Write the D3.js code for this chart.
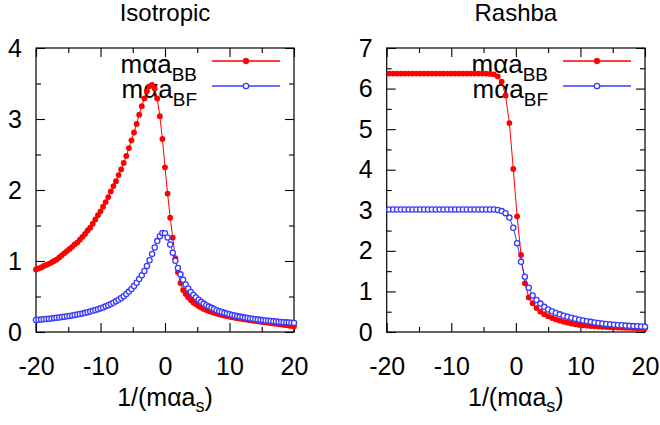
<!DOCTYPE html>
<html>
<head>
<meta charset="utf-8">
<script src="https://cdn.jsdelivr.net/npm/d3@7"></script>
<style>
  body { margin: 0; background: #fff; }
  svg { display: block; }
  text { font-family: "Liberation Sans", Arial, Helvetica, sans-serif; fill: #000; }
</style>
</head>
<body>
<svg id="chart" width="660" height="425"></svg>
<script>
// ---- data: inverse scattering length 1/(m α a_s) and the resulting m α a ----

// Isotropic coupling, sampled every 0.4
const isoX = [
  -20, -19.6, -19.2, -18.8, -18.4, -18, -17.6, -17.2, -16.8, -16.4,
  -16, -15.6, -15.2, -14.8, -14.4, -14, -13.6, -13.2, -12.8, -12.4,
  -12, -11.6, -11.2, -10.8, -10.4, -10, -9.6, -9.2, -8.8, -8.4,
  -8, -7.6, -7.2, -6.8, -6.4, -6, -5.6, -5.2, -4.8, -4.4,
  -4, -3.6, -3.2, -2.8, -2.4, -2, -1.6, -1.2, -0.8, -0.4,
  0, 0.4, 0.8, 1.2, 1.6, 2, 2.4, 2.8, 3.2, 3.6,
  4, 4.4, 4.8, 5.2, 5.6, 6, 6.4, 6.8, 7.2, 7.6,
  8, 8.4, 8.8, 9.2, 9.6, 10, 10.4, 10.8, 11.2, 11.6,
  12, 12.4, 12.8, 13.2, 13.6, 14, 14.4, 14.8, 15.2, 15.6,
  16, 16.4, 16.8, 17.2, 17.6, 18, 18.4, 18.8, 19.2, 19.6,
  20
];
const isoBB = [
  0.88, 0.895, 0.91, 0.93, 0.945, 0.96, 0.98, 1.00, 1.02, 1.05,
  1.08, 1.11, 1.14, 1.17, 1.20, 1.235, 1.26, 1.30, 1.34, 1.38,
  1.43, 1.47, 1.525, 1.585, 1.645, 1.70, 1.765, 1.83, 1.90, 1.98,
  2.055, 2.125, 2.21, 2.29, 2.38, 2.48, 2.59, 2.70, 2.81, 2.93,
  3.06, 3.18, 3.29, 3.39, 3.46, 3.48, 3.43, 3.29, 3.04, 2.72,
  2.32, 1.95, 1.61, 1.33, 1.04, 0.84, 0.69, 0.59, 0.535, 0.49,
  0.45, 0.415, 0.39, 0.365, 0.345, 0.325, 0.31, 0.295, 0.283, 0.271,
  0.26, 0.25, 0.241, 0.232, 0.224, 0.216, 0.209, 0.202, 0.195, 0.189,
  0.183, 0.177, 0.171, 0.166, 0.161, 0.156, 0.151, 0.146, 0.141, 0.136,
  0.131, 0.126, 0.121, 0.116, 0.111, 0.106, 0.101, 0.096, 0.090, 0.085,
  0.080
];
const isoBF = [
  0.168, 0.172, 0.175, 0.179, 0.183, 0.187, 0.191, 0.196, 0.200, 0.205,
  0.210, 0.216, 0.221, 0.227, 0.233, 0.240, 0.247, 0.254, 0.262, 0.270,
  0.279, 0.288, 0.298, 0.309, 0.321, 0.333, 0.346, 0.361, 0.376, 0.393,
  0.412, 0.432, 0.454, 0.478, 0.505, 0.535, 0.569, 0.606, 0.648, 0.694,
  0.747, 0.80, 0.86, 0.93, 1.01, 1.10, 1.19, 1.28, 1.35, 1.395,
  1.392, 1.332, 1.232, 1.116, 1.003, 0.901, 0.812, 0.735, 0.669, 0.613,
  0.564, 0.522, 0.486, 0.454, 0.425, 0.400, 0.378, 0.358, 0.340, 0.323,
  0.308, 0.294, 0.282, 0.270, 0.260, 0.250, 0.241, 0.232, 0.224, 0.217,
  0.210, 0.203, 0.197, 0.191, 0.186, 0.181, 0.176, 0.171, 0.167, 0.163,
  0.159, 0.155, 0.151, 0.148, 0.145, 0.142, 0.139, 0.136, 0.133, 0.130,
  0.128
];

// Rashba coupling, sampled every 0.6
const rashbaX = [
  -19.6, -19, -18.4, -17.8, -17.2, -16.6, -16, -15.4, -14.8, -14.2,
  -13.6, -13, -12.4, -11.8, -11.2, -10.6, -10, -9.4, -8.8, -8.2,
  -7.6, -7, -6.4, -5.8, -5.2, -4.6, -4, -3.4, -2.8, -2.2,
  -1.6, -1, -0.4, 0.2, 0.8, 1.4, 2, 2.6, 3.2, 3.8,
  4.4, 5, 5.6, 6.2, 6.8, 7.4, 8, 8.6, 9.2, 9.8,
  10.4, 11, 11.6, 12.2, 12.8, 13.4, 14, 14.6, 15.2, 15.8,
  16.4, 17, 17.6, 18.2, 18.8, 19.4, 20
];
const rashbaBB = [
  6.37, 6.37, 6.37, 6.37, 6.37, 6.37, 6.37, 6.37, 6.37, 6.37,
  6.37, 6.37, 6.37, 6.37, 6.37, 6.37, 6.37, 6.37, 6.37, 6.37,
  6.37, 6.37, 6.37, 6.37, 6.37, 6.37, 6.36, 6.35, 6.30, 6.17,
  5.83, 5.15, 4.02, 2.85, 1.90, 1.20, 0.85, 0.71, 0.59, 0.50,
  0.44, 0.39, 0.345, 0.31, 0.28, 0.25, 0.23, 0.21, 0.19, 0.175,
  0.165, 0.155, 0.145, 0.14, 0.135, 0.13, 0.125, 0.12, 0.115, 0.11,
  0.107, 0.104, 0.10, 0.097, 0.094, 0.092, 0.09
];
const rashbaBF = [
  3.02, 3.02, 3.02, 3.02, 3.02, 3.02, 3.02, 3.02, 3.02, 3.02,
  3.02, 3.02, 3.02, 3.02, 3.02, 3.02, 3.02, 3.02, 3.02, 3.02,
  3.02, 3.02, 3.02, 3.02, 3.02, 3.02, 3.02, 3.02, 3.01, 2.98,
  2.93, 2.82, 2.57, 2.19, 1.73, 1.36, 1.09, 0.90, 0.79, 0.70,
  0.62, 0.555, 0.51, 0.47, 0.435, 0.40, 0.375, 0.35, 0.325, 0.305,
  0.285, 0.265, 0.25, 0.235, 0.22, 0.21, 0.20, 0.19, 0.18, 0.172,
  0.165, 0.158, 0.152, 0.146, 0.141, 0.136, 0.132
];

// tick values
const xDomain = [-20, 20];
const xTicks = [-20, -10, 0, 10, 20];
const xMinorTicks = [-15, -5, 5, 15];
const isoYTicks = [0, 1, 2, 3, 4];
const isoYMinorTicks = [0.5, 1.5, 2.5, 3.5];
const rashbaYTicks = [0, 1, 2, 3, 4, 5, 6, 7];
const rashbaYMinorTicks = [0.5, 1.5, 2.5, 3.5, 4.5, 5.5, 6.5];

// ---- layout ----
const svg = d3.select("#chart");
const plotTop = 48, plotBottom = 332;
const RED = "#ff0000", BLUE = "#3a3aff";
const FONT = '"Liberation Sans", Arial, Helvetica, sans-serif';
const plainNumber = d => String(d);   // ASCII hyphen for negatives

const panels = [
  { title: "Isotropic", xs: isoX, bb: isoBB, bf: isoBF, left: 36, right: 294,
    yTicks: isoYTicks, yMinor: isoYMinorTicks },
  { title: "Rashba", xs: rashbaX, bb: rashbaBB, bf: rashbaBF, left: 386.7, right: 645,
    yTicks: rashbaYTicks, yMinor: rashbaYMinorTicks }
];

function styleAxis(g, size) {
  g.attr("font-family", FONT).attr("font-size", size);
  g.select(".domain").remove();
  g.selectAll(".tick line").attr("stroke", "#000").attr("stroke-width", 1.1);
  g.selectAll(".tick text").attr("fill", "#000");
}

panels.forEach(p => {
  const x = d3.scaleLinear().domain(xDomain).range([p.left, p.right]);
  const yMax = p.yTicks[p.yTicks.length - 1];
  const y = d3.scaleLinear().domain([0, yMax]).range([plotBottom, plotTop]);
  const g = svg.append("g");
  const cx = (p.left + p.right) / 2;

  // title
  g.append("text").attr("x", cx).attr("y", 21).attr("text-anchor", "middle")
    .attr("font-size", 24).text(p.title);

  // axes: labelled major ticks + short minor ticks, mirrored on top/right, all inward
  g.append("g").attr("transform", `translate(0,${plotBottom})`)
    .call(d3.axisBottom(x).tickValues(xTicks).tickSize(-9).tickPadding(25).tickFormat(plainNumber))
    .call(a => styleAxis(a, 25));
  g.append("g").attr("transform", `translate(0,${plotBottom})`)
    .call(d3.axisBottom(x).tickValues(xMinorTicks).tickSize(-5).tickFormat(""))
    .call(a => styleAxis(a, 25));
  g.append("g").attr("transform", `translate(0,${plotTop})`)
    .call(d3.axisTop(x).tickValues(xTicks).tickSize(-9).tickFormat(""))
    .call(a => styleAxis(a, 25));
  g.append("g").attr("transform", `translate(0,${plotTop})`)
    .call(d3.axisTop(x).tickValues(xMinorTicks).tickSize(-5).tickFormat(""))
    .call(a => styleAxis(a, 25));

  g.append("g").attr("transform", `translate(${p.left},0)`)
    .call(d3.axisLeft(y).tickValues(p.yTicks).tickSize(-9).tickPadding(14).tickFormat(plainNumber))
    .call(a => styleAxis(a, 25));
  g.append("g").attr("transform", `translate(${p.left},0)`)
    .call(d3.axisLeft(y).tickValues(p.yMinor).tickSize(-5).tickFormat(""))
    .call(a => styleAxis(a, 25));
  g.append("g").attr("transform", `translate(${p.right},0)`)
    .call(d3.axisRight(y).tickValues(p.yTicks).tickSize(-9).tickFormat(""))
    .call(a => styleAxis(a, 25));
  g.append("g").attr("transform", `translate(${p.right},0)`)
    .call(d3.axisRight(y).tickValues(p.yMinor).tickSize(-5).tickFormat(""))
    .call(a => styleAxis(a, 25));

  // frame
  g.append("rect").attr("x", p.left).attr("y", plotTop)
    .attr("width", p.right - p.left).attr("height", plotBottom - plotTop)
    .attr("fill", "none").attr("stroke", "#000").attr("stroke-width", 1.2);

  // x axis title 1/(mαa_s)
  const xt = g.append("text").attr("x", cx).attr("y", 406).attr("text-anchor", "middle")
    .attr("font-size", 25);
  xt.append("tspan").text("1/(mαa");
  xt.append("tspan").attr("font-size", 18).attr("dy", 6).text("s");
  xt.append("tspan").attr("dy", -6).text(")");

  // key
  const keyText = p.right - 97, keyL0 = p.right - 82, keyL1 = p.right - 14, keyMid = p.right - 48;
  const keys = [
    { sub: "BB", color: RED, filled: true, yLine: 61 },
    { sub: "BF", color: BLUE, filled: false, yLine: 86 }
  ];
  keys.forEach(k => {
    const t = g.append("text").attr("x", keyText).attr("y", k.yLine + 12.3)
      .attr("text-anchor", "end").attr("font-size", 26);
    t.append("tspan").text("mαa");
    t.append("tspan").attr("font-size", 19).attr("dy", 7.5).text(k.sub);
    g.append("line").attr("x1", keyL0).attr("x2", keyL1).attr("y1", k.yLine).attr("y2", k.yLine)
      .attr("stroke", k.color).attr("stroke-width", 1.3);
    g.append("circle").attr("cx", keyMid).attr("cy", k.yLine).attr("r", k.filled ? 3 : 2.7)
      .attr("fill", k.filled ? k.color : "#fff").attr("stroke", k.color)
      .attr("stroke-width", k.filled ? 0.5 : 1.3);
  });

  // data series
  const clip = "clip-" + p.title;
  svg.append("clipPath").attr("id", clip).append("rect")
    .attr("x", p.left - 4).attr("y", plotTop - 4)
    .attr("width", p.right - p.left + 8).attr("height", plotBottom - plotTop + 8);
  const d = g.append("g").attr("clip-path", `url(#${clip})`);
  const line = d3.line().x(v => x(v[0])).y(v => y(v[1]));

  const bbPts = p.xs.map((xv, i) => [xv, p.bb[i]]);
  const bfPts = p.xs.map((xv, i) => [xv, p.bf[i]]);

  d.append("path").datum(bbPts).attr("d", line).attr("fill", "none")
    .attr("stroke", RED).attr("stroke-width", 1);
  d.selectAll("circle.bb").data(bbPts).join("circle").attr("class", "bb")
    .attr("cx", v => x(v[0])).attr("cy", v => y(v[1])).attr("r", 2.9)
    .attr("fill", RED);

  d.append("path").datum(bfPts).attr("d", line).attr("fill", "none")
    .attr("stroke", BLUE).attr("stroke-width", 1);
  d.selectAll("circle.bf").data(bfPts).join("circle").attr("class", "bf")
    .attr("cx", v => x(v[0])).attr("cy", v => y(v[1])).attr("r", 2.6)
    .attr("fill", "#fff").attr("stroke", BLUE).attr("stroke-width", 1.3);
});
</script>
</body>
</html>
